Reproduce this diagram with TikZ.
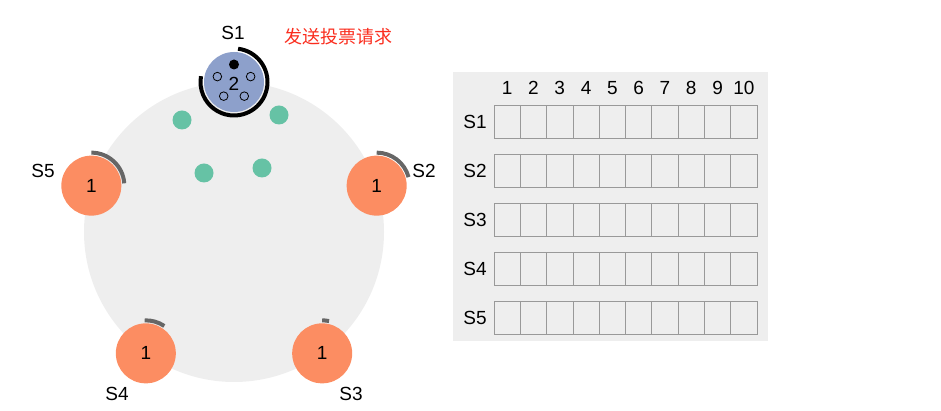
\documentclass[tikz,border=0pt]{standalone}
\usepackage{fontspec}
\setmainfont{Liberation Sans}
\newfontfamily\cjk{Noto Sans CJK SC}
\definecolor{candidate}{HTML}{8DA0CB}
\definecolor{follower}{HTML}{FC8D62}
\definecolor{vote}{HTML}{66C2A5}
\definecolor{ring}{HTML}{EEEEEE}
\definecolor{timer}{HTML}{666666}
\definecolor{msgred}{HTML}{FA2D1E}

\begin{document}
\begin{tikzpicture}[x=1pt, y=1pt, font=\fontsize{19}{22}\selectfont,
      server/.style={circle, minimum size=60pt, inner sep=0pt},
      ballot/.style={circle, fill=vote, minimum size=19pt, inner sep=0pt},
      clock/.style={timer, line width=4pt},
      cell/.style={draw=black!40, line width=0.8pt}]

      \useasboundingbox (0,0) rectangle (941,411);

      \def\R{150}
      \def\w{26.3}

      \coordinate (c) at (234,179);
      \fill [ring] (c) circle [radius=\R];

      \node [server, fill=candidate] (s1) at ([shift={(90:\R)}]c) {};
      \draw [line width=4pt] ([shift={(83:33.5)}]s1.center) arc [start angle=83, end angle=-190, radius=33.5];
      \fill ([shift={(90:17.5)}]s1.center) circle [radius=5];
      \foreach \a in {18,162,234,306}
         \draw [line width=0.8pt] ([shift={(\a:17.5)}]s1.center) circle [radius=4.3];
      \node at ([yshift=-2pt]s1.center) {2};

      \foreach \i/\a in {2/18, 3/-54, 4/-126, 5/162}
         \node [server, fill=follower] (s\i) at ([shift={(\a:\R)}]c) {1};

      \foreach \i/\s/\e in {2/90/15, 3/90/78, 4/92/56, 5/90/4}
         \draw [clock] ([shift={(\s:33)}]s\i.center) arc [start angle=\s, end angle=\e, radius=33];

      \foreach \x/\y [count=\k] in {182/291, 279/296, 204/238, 262/243}
         \node [ballot] (v\k) at (\x,\y) {};

      \node (l1) at (233,378) {S1};
      \node (l2) at (424,240) {S2};
      \node (l3) at (351,17) {S3};
      \node (l4) at (117,17) {S4};
      \node (l5) at (43,240) {S5};
      \node [text=msgred, font=\cjk\fontsize{18}{20}\selectfont] (msg) at (338,374) {发送投票请求};

      \fill [ring] (453,70) rectangle (768,339);
      \foreach \c in {1,...,10}
         \node (h\c) at ({494+\w*(\c-0.5)},323) {\c};
      \foreach \r in {1,...,5} {
         \node (r\r) at (475,{289.5-49*(\r-1)}) {S\r};
         \foreach \c in {1,...,10}
            \draw [cell] ({494+\w*(\c-1)},{306-49*(\r-1)}) rectangle ++(\w,-33);
      }

   \end{tikzpicture}
\end{document}
